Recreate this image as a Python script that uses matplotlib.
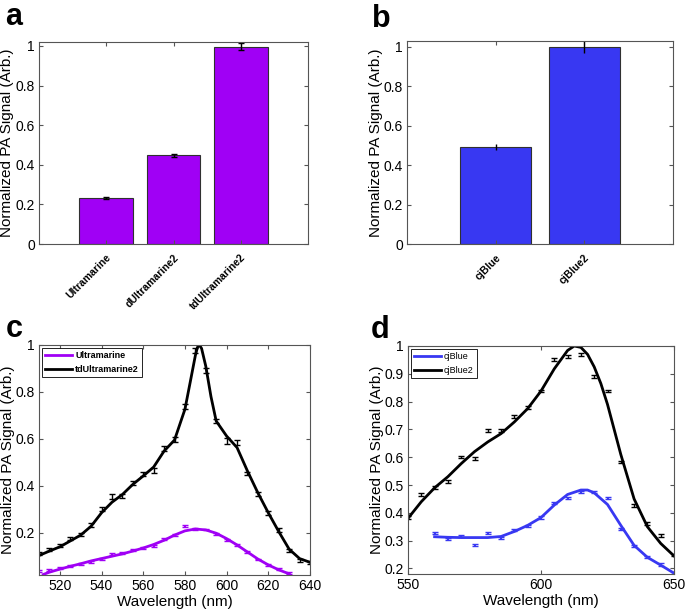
import numpy as np
import matplotlib
matplotlib.use('Agg')
import matplotlib.pyplot as plt

plt.rcParams['font.family'] = ['Liberation Sans', 'DejaVu Sans']

# panel a
a_names = ['Ultramarine', 'dUltramarine2', 'tdUltramarine2']
a_vals = [0.232, 0.447, 0.997]
a_err = [0.005, 0.008, 0.016]

# panel b
b_names = ['cjBlue', 'cjBlue2']
b_vals = [0.49, 1.0]
b_err = [0.015, 0.03]

# panel c, measured points
c_wl = [510, 515, 520, 525, 530, 535, 540, 545, 550, 555, 560, 565, 570, 575,
        580, 585, 590, 595, 600, 605, 610, 615, 620, 625, 630, 635, 640]
c_td = [0.112, 0.129, 0.146, 0.174, 0.194, 0.234, 0.300, 0.354, 0.356, 0.413,
        0.450, 0.464, 0.560, 0.598, 0.737, 0.976, 0.892, 0.676, 0.591, 0.584,
        0.452, 0.365, 0.285, 0.211, 0.123, 0.083, 0.075]
c_td_err = [0.008, 0.006, 0.006, 0.006, 0.006, 0.008, 0.008, 0.01, 0.01, 0.008,
            0.008, 0.01, 0.01, 0.01, 0.01, 0.01, 0.01, 0.008, 0.012, 0.01,
            0.008, 0.008, 0.008, 0.008, 0.006, 0.006, 0.006]
c_um_wl = [510, 515, 520, 525, 530, 535, 540, 545, 550, 555, 560, 565, 570, 575,
           580, 585, 590, 595, 600, 605, 610, 615, 620, 625, 630]
c_um = [0.036, 0.040, 0.050, 0.058, 0.068, 0.076, 0.089, 0.108, 0.112, 0.126,
        0.136, 0.143, 0.172, 0.190, 0.227, 0.217, 0.214, 0.196, 0.169, 0.147,
        0.118, 0.086, 0.063, 0.046, 0.029]
c_um_err = [0.004] * len(c_um)

# panel c, fitted curves
c_fit_wl = [510, 515, 520, 525, 530, 535, 540, 545, 550, 555, 560, 565, 570, 575,
            580, 582.5, 585, 586, 587, 588, 590, 592.5, 595, 600, 605, 610, 615,
            620, 625, 630, 635, 640]
c_fit_td = [0.103, 0.122, 0.14, 0.165, 0.19, 0.228, 0.285, 0.33, 0.363, 0.406,
            0.442, 0.48, 0.548, 0.595, 0.726, 0.84, 0.955, 0.99, 1.0, 0.985,
            0.91, 0.78, 0.676, 0.612, 0.563, 0.463, 0.37, 0.285, 0.205, 0.13,
            0.09, 0.074]
c_fit_um_wl = [512, 515, 520, 525, 530, 535, 540, 545, 550, 555, 560, 565, 570,
               575, 580, 585, 590, 595, 600, 605, 610, 615, 620, 625, 630]
c_fit_um = [0.022, 0.032, 0.045, 0.057, 0.068, 0.08, 0.09, 0.1, 0.11, 0.122,
            0.135, 0.15, 0.168, 0.19, 0.208, 0.216, 0.212, 0.198, 0.175, 0.148,
            0.118, 0.088, 0.063, 0.042, 0.025]

# panel d, measured points
d_wl = [550, 555, 560, 565, 570, 575, 580, 585, 590, 595, 600, 605, 610, 615,
        620, 625, 630, 635, 640, 645, 650]
d_cj2 = [0.383, 0.466, 0.491, 0.514, 0.601, 0.594, 0.695, 0.697, 0.747, 0.78,
         0.838, 0.952, 0.963, 0.97, 0.891, 0.838, 0.583, 0.426, 0.362, 0.319,
         0.248]
d_cj2_err = [0.005] * len(d_cj2)
d_cj_wl = [560, 565, 570, 575, 580, 585, 590, 595, 600, 605, 610, 615, 620, 625,
           630, 635, 640, 645, 650]
d_cj = [0.328, 0.307, 0.316, 0.284, 0.328, 0.31, 0.338, 0.352, 0.383, 0.436,
        0.454, 0.475, 0.475, 0.454, 0.343, 0.28, 0.242, 0.214, 0.182]
d_cj_err = [0.004] * len(d_cj)

# panel d, fitted curves
d_fit_wl = [550, 555, 560, 565, 570, 575, 580, 585, 590, 595, 600, 605, 610,
            612.5, 615, 617.5, 620, 622.5, 625, 627.5, 630, 635, 640, 645, 650]
d_fit_cj2 = [0.38, 0.44, 0.49, 0.53, 0.577, 0.62, 0.655, 0.685, 0.727, 0.775,
             0.838, 0.918, 0.984, 1.0, 0.995, 0.97, 0.925, 0.865, 0.79, 0.7,
             0.61, 0.45, 0.35, 0.29, 0.245]
d_fit_cj_wl = [560, 565, 570, 575, 580, 585, 590, 595, 600, 605, 610, 615,
               617.5, 620, 625, 630, 635, 640, 645, 650]
d_fit_cj = [0.314, 0.312, 0.311, 0.311, 0.311, 0.315, 0.333, 0.355, 0.383,
            0.428, 0.466, 0.482, 0.482, 0.472, 0.43, 0.355, 0.283, 0.24, 0.212,
            0.183]

purple = '#A000F5'
blue = '#3838F2'
spine = '#555555'
ylab = 'Normalized PA Signal (Arb.)'


def style(ax):
    for s in ax.spines.values():
        s.set_color(spine)
        s.set_linewidth(0.8)
    ax.tick_params(direction='in', top=True, right=True, length=3,
                   color=spine, labelsize=10, pad=3)


fig = plt.figure(figsize=(6.85, 6.11), dpi=100)
W, H = 685, 611


def add_axes(left, top, right, bottom):
    return fig.add_axes([left / W, 1 - bottom / H, (right - left) / W, (bottom - top) / H])


# a
ax = add_axes(39, 42, 308, 244)
x = np.arange(1, len(a_names) + 1)
ax.bar(x, a_vals, width=0.8, color=purple, edgecolor='#303030', linewidth=0.8)
ax.errorbar(x, a_vals, yerr=a_err, fmt='none', ecolor='black', elinewidth=1, capsize=2)
ax.set_xlim(0, 4)
ax.set_ylim(0, 1.02)
ax.set_yticks([0, 0.2, 0.4, 0.6, 0.8, 1])
ax.set_yticklabels(['0', '0.2', '0.4', '0.6', '0.8', '1'])
ax.set_xticks(x)
ax.set_xticklabels(a_names, rotation=45, ha='right', rotation_mode='anchor',
                   fontsize=7.5, fontweight='bold')
ax.set_ylabel(ylab, fontsize=11)
ax.yaxis.set_label_coords(-0.092, 0.5)
style(ax)
ax.tick_params(axis='x', labelsize=7.5, pad=6)

# b
ax = add_axes(407, 41, 673, 244)
x = np.arange(1, len(b_names) + 1)
ax.bar(x, b_vals, width=0.8, color=blue, edgecolor='#303030', linewidth=0.8)
ax.errorbar(x, b_vals, yerr=b_err, fmt='none', ecolor='black', elinewidth=1, capsize=0)
ax.set_xlim(0, 3)
ax.set_ylim(0, 1.03)
ax.set_yticks([0, 0.2, 0.4, 0.6, 0.8, 1])
ax.set_yticklabels(['0', '0.2', '0.4', '0.6', '0.8', '1'])
ax.set_xticks(x)
ax.set_xticklabels(b_names, rotation=45, ha='right', rotation_mode='anchor',
                   fontsize=7.5, fontweight='bold')
ax.set_ylabel(ylab, fontsize=11)
ax.yaxis.set_label_coords(-0.092, 0.5)
style(ax)
ax.tick_params(axis='x', labelsize=7.5, pad=6)

# c
ax = add_axes(39, 345, 310, 575)
ax.plot(c_fit_um_wl, c_fit_um, color=purple, lw=2, label='Ultramarine')
ax.plot(c_fit_wl, c_fit_td, color='black', lw=2, label='tdUltramarine2')
ax.errorbar(c_um_wl, c_um, yerr=c_um_err, fmt='none', ecolor=purple, elinewidth=1.5, capsize=2)
ax.errorbar(c_wl, c_td, yerr=c_td_err, fmt='none', ecolor='black', elinewidth=1, capsize=2)
ax.set_xlim(510, 640)
ax.set_ylim(0.02, 1)
ax.set_xticks(range(520, 641, 20))
ax.set_yticks([0.2, 0.4, 0.6, 0.8, 1])
ax.set_yticklabels(['0.2', '0.4', '0.6', '0.8', '1'])
ax.set_xlabel('Wavelength (nm)', fontsize=11, labelpad=1)
ax.set_ylabel(ylab, fontsize=11)
ax.yaxis.set_label_coords(-0.088, 0.5)
style(ax)
leg = ax.legend(loc='upper left', prop={'size': 6.5, 'weight': 'bold'}, handlelength=3.0,
                fancybox=False, edgecolor='black', framealpha=1, borderpad=0.4,
                labelspacing=0.5, handletextpad=0.3, borderaxespad=0.3)
leg.get_frame().set_linewidth(0.6)

# d
ax = add_axes(408, 346, 674, 574)
ax.plot(d_fit_cj_wl, d_fit_cj, color=blue, lw=2, label='cjBlue')
ax.plot(d_fit_wl, d_fit_cj2, color='black', lw=2, label='cjBlue2')
ax.errorbar(d_cj_wl, d_cj, yerr=d_cj_err, fmt='none', ecolor=blue, elinewidth=1.5, capsize=2)
ax.errorbar(d_wl, d_cj2, yerr=d_cj2_err, fmt='none', ecolor='black', elinewidth=1, capsize=2)
ax.set_xlim(550, 650)
ax.set_ylim(0.18, 1)
ax.set_xticks([550, 600, 650])
ax.set_yticks([0.2, 0.3, 0.4, 0.5, 0.6, 0.7, 0.8, 0.9, 1])
ax.set_yticklabels(['0.2', '0.3', '0.4', '0.5', '0.6', '0.7', '0.8', '0.9', '1'])
ax.set_xlabel('Wavelength (nm)', fontsize=11, labelpad=1)
ax.set_ylabel(ylab, fontsize=11)
ax.yaxis.set_label_coords(-0.09, 0.5)
style(ax)
leg = ax.legend(loc='upper left', prop={'size': 6.5}, handlelength=3.0,
                fancybox=False, edgecolor='black', framealpha=1, borderpad=0.4,
                labelspacing=0.5, handletextpad=0.3, borderaxespad=0.3)
leg.get_frame().set_linewidth(0.6)

# panel letters
for letter, px, py in [('a', 5, 25), ('b', 372, 27), ('c', 6, 337), ('d', 371, 338)]:
    fig.text(px / W, 1 - py / H, letter, fontsize=22, fontweight='bold', va='baseline')

fig.savefig('out.png', dpi=100)
